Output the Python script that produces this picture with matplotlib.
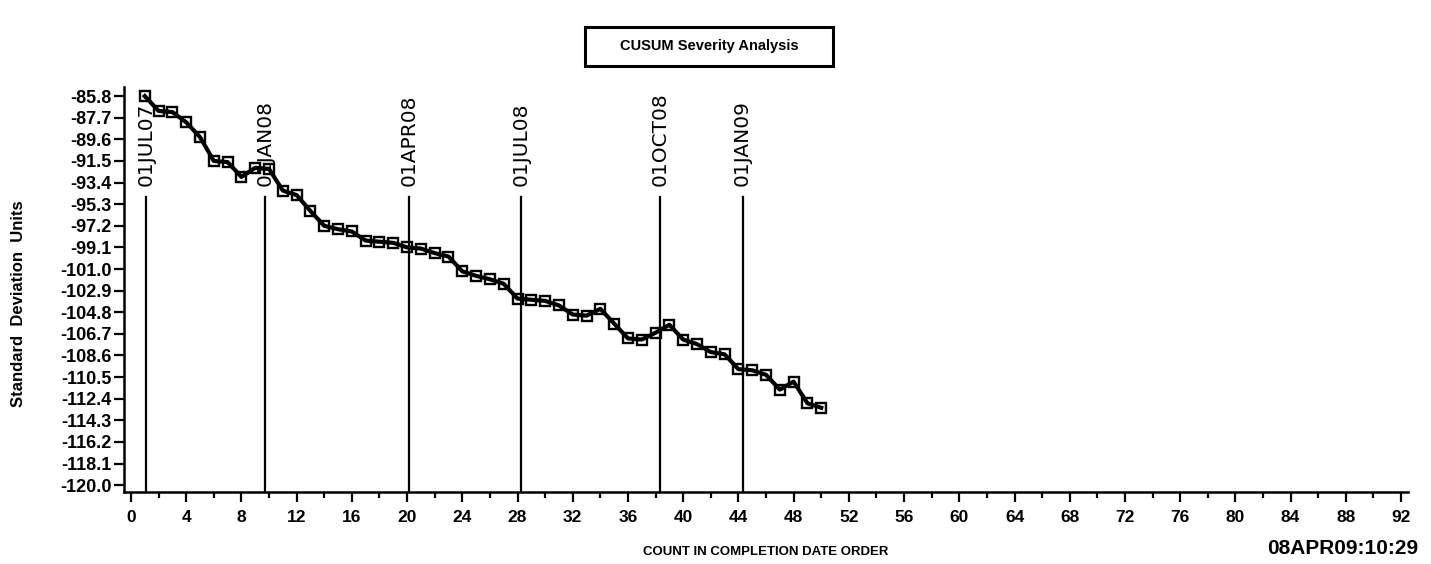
import matplotlib.pyplot as plt
import matplotlib.patches as patches
from matplotlib.ticker import MultipleLocator

# data
count = list(range(1, 51))
cusum = [-85.8, -87.1, -87.2, -88.1, -89.4, -91.5, -91.6, -92.9, -92.1, -92.2,
         -94.1, -94.5, -95.9, -97.2, -97.5, -97.7, -98.5, -98.6, -98.7, -99.1,
         -99.2, -99.6, -99.9, -101.2, -101.6, -101.9, -102.3, -103.6, -103.7, -103.8,
         -104.2, -105.0, -105.1, -104.5, -105.8, -107.1, -107.2, -106.6, -105.9, -107.2,
         -107.6, -108.3, -108.5, -109.8, -109.9, -110.3, -111.6, -110.9, -112.8, -113.2]

date_labels = ['01JUL07', '01JAN08', '01APR08', '01JUL08', '01OCT08', '01JAN09']
date_pos = [1.08, 9.7, 20.17, 28.27, 38.3, 44.3]

ytick_vals = [-85.8, -87.7, -89.6, -91.5, -93.4, -95.3, -97.2, -99.1, -101.0, -102.9,
              -104.8, -106.7, -108.6, -110.5, -112.4, -114.3, -116.2, -118.1, -120.0]
ytick_labels = ['%.1f' % v for v in ytick_vals]
xtick_vals = list(range(0, 93, 4))

sans = ['Liberation Sans', 'DejaVu Sans']

fig = plt.figure(figsize=(14.31, 5.64), dpi=100)
ax = fig.add_axes([0.0867, 0.1277, 0.8972, 0.718])

ax.plot(count, cusum, color='black', lw=3.0, marker='s', ms=6.8,
        mfc='none', mec='black', mew=1.7, zorder=3)

# reference lines for dates
line_top = -94.7
for pos, lab in zip(date_pos, date_labels):
    ax.plot([pos, pos], [-120.6, line_top], color='black', lw=1.6, zorder=2)
    ax.text(pos, line_top + 1.0, lab, rotation=90, ha='center', va='bottom',
            fontsize=14.5, family='DejaVu Sans', zorder=4)

ax.set_xlim(-0.5, 92.5)
ax.set_ylim(-120.6, -85.0)
ax.set_xticks(xtick_vals)
ax.xaxis.set_minor_locator(MultipleLocator(2))
ax.set_yticks(ytick_vals)
ax.set_yticklabels(ytick_labels)

for lab in ax.get_xticklabels():
    lab.set_family(sans)
    lab.set_fontsize(12.5)
    lab.set_fontweight('bold')
for lab in ax.get_yticklabels():
    lab.set_family(sans)
    lab.set_fontsize(13)
    lab.set_fontweight('bold')

ax.tick_params(axis='both', which='major', direction='out', length=7, width=1.6, color='black')
ax.tick_params(axis='x', which='minor', direction='out', length=4, width=1.6)
ax.tick_params(axis='x', pad=6)
ax.tick_params(axis='y', pad=2)

for side in ['top', 'right']:
    ax.spines[side].set_visible(False)
for side in ['left', 'bottom']:
    ax.spines[side].set_linewidth(1.8)

fig.text(0.0126, 0.461, 'Standard  Deviation  Units', rotation=90, ha='center', va='center',
         fontsize=12, fontweight='bold', family=sans)
fig.text(0.535, 0.022, 'COUNT IN COMPLETION DATE ORDER', ha='center', va='center',
         fontsize=9.5, fontweight='bold', family=sans)
fig.text(0.991, 0.027, '08APR09:10:29', ha='right', va='center',
         fontsize=15, fontweight='bold', family=sans)

# title box
fig.patches.append(patches.Rectangle((585 / 1431, 1 - 66 / 564), 248 / 1431, 39 / 564,
                                     transform=fig.transFigure, fill=False,
                                     edgecolor='black', lw=2.2))
fig.text(709 / 1431, 1 - 46 / 564, 'CUSUM Severity Analysis', ha='center', va='center',
         fontsize=10.5, fontweight='bold', family=sans)

fig.savefig('out.png', dpi=100)
